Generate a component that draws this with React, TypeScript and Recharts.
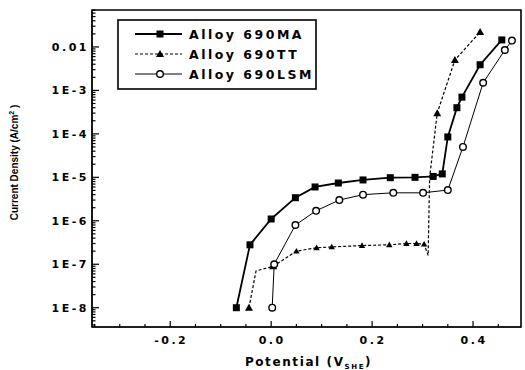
import React from 'react'
import { LineChart, Line, XAxis, YAxis, Label, ReferenceArea } from 'recharts'

// potential (V vs SHE) and current density (A/cm2)
const maPotential = [-0.069, -0.042, 0.0, 0.048, 0.087, 0.133, 0.182, 0.236, 0.285, 0.321, 0.339, 0.35, 0.368, 0.378, 0.414, 0.457]
const maCurrent = [1e-8, 2.8e-7, 1.1e-6, 3.4e-6, 6e-6, 7.4e-6, 8.7e-6, 9.8e-6, 1.0e-5, 1.05e-5, 1.2e-5, 8.5e-5, 4e-4, 7e-4, 3.9e-3, 0.0145]

const ttPotential = [-0.044, -0.03, 0.004, 0.05, 0.09, 0.12, 0.18, 0.234, 0.268, 0.288, 0.303, 0.311, 0.314, 0.329, 0.364, 0.414]
const ttCurrent = [1e-8, 7e-8, 9e-8, 2e-7, 2.4e-7, 2.5e-7, 2.7e-7, 2.8e-7, 3e-7, 3e-7, 2.9e-7, 1.6e-7, 1e-5, 3e-4, 5e-3, 0.022]

const lsmPotential = [0.002, 0.006, 0.048, 0.089, 0.135, 0.182, 0.242, 0.301, 0.35, 0.38, 0.42, 0.463, 0.477]
const lsmCurrent = [1e-8, 1e-7, 8e-7, 1.7e-6, 3e-6, 4e-6, 4.4e-6, 4.4e-6, 5.1e-6, 5e-5, 1.5e-3, 8.5e-3, 0.014]

const seriesNames = ['Alloy 690MA', 'Alloy 690TT', 'Alloy 690LSM']

const xMajor = [-0.2, 0.0, 0.2, 0.4]
const xTicks = [-0.35, -0.3, -0.25, -0.2, -0.15, -0.1, -0.05, 0, 0.05, 0.1, 0.15, 0.2, 0.25, 0.3, 0.35, 0.4, 0.45]
const yMajor = [1e-8, 1e-7, 1e-6, 1e-5, 1e-4, 1e-3, 1e-2]
const yMajorLabels = ['1E-8', '1E-7', '1E-6', '1E-5', '1E-4', '1E-3', '0.01']

const X_DOMAIN: [number, number] = [-0.355, 0.495]
const Y_DOMAIN: [number, number] = [3.6e-9, 0.0708]

// minor ticks 2..9 within each decade, clipped to the domain
const yTicks = [1e-9, ...yMajor].flatMap(d => [1, 2, 3, 4, 5, 6, 7, 8, 9].map(k => k * d))
  .filter(v => v >= Y_DOMAIN[0] && v <= Y_DOMAIN[1])

const toPoints = (xs: number[], ys: number[]) => xs.map((x, i) => ({ x, y: ys[i] }))
const maData = toPoints(maPotential, maCurrent)
const ttData = toPoints(ttPotential, ttCurrent)
const lsmData = toPoints(lsmPotential, lsmCurrent)

const FONT = '"DejaVu Sans", sans-serif'
const GAP = 6

const isXMajor = (v: number) => xMajor.some(m => Math.abs(m - v) < 1e-9)
const yMajorIndex = (v: number) => yMajor.findIndex(m => Math.abs(Math.log10(m) - Math.log10(v)) < 1e-6)

function LeftTick({ x, y, payload }: any) {
  const idx = yMajorIndex(payload.value)
  const ax = x + GAP
  return (
    <g>
      <line x1={ax} x2={ax + (idx >= 0 ? 7 : 3.5)} y1={y} y2={y} stroke="#000" strokeWidth={1.2} />
      {idx >= 0 && (
        <text x={ax - 3} y={y} dy={4} textAnchor="end" fontFamily={FONT} fontWeight={700} fontSize={11} letterSpacing={2.5} fill="#000">
          {yMajorLabels[idx]}
        </text>
      )}
    </g>
  )
}

function RightTick({ x, y, payload }: any) {
  const major = yMajorIndex(payload.value) >= 0
  return <line x1={x} x2={x - (major ? 7 : 3.5)} y1={y} y2={y} stroke="#000" strokeWidth={1.2} />
}

function BottomTick({ x, y, payload }: any) {
  const major = isXMajor(payload.value)
  const ay = y - GAP
  return (
    <g>
      <line x1={x} x2={x} y1={ay} y2={ay - (major ? 6 : 3)} stroke="#000" strokeWidth={1.2} />
      {major && (
        <text x={x + 1} y={ay + 17} textAnchor="middle" fontFamily={FONT} fontWeight={700} fontSize={11} letterSpacing={2.5} fill="#000">
          {payload.value.toFixed(1)}
        </text>
      )}
    </g>
  )
}

function TopTick({ x, y, payload }: any) {
  const major = isXMajor(payload.value)
  return <line x1={x} x2={x} y1={y} y2={y + (major ? 6 : 3)} stroke="#000" strokeWidth={1.2} />
}

const Square = (p: any) => {
  if (p.cx == null) return <g key={p.index} />
  return <rect key={p.index} x={p.cx - 3.5} y={p.cy - 3.5} width={7} height={7} fill="#000" />
}

const TT_NO_MARK = [1, 11, 12]
const Triangle = (p: any) => {
  if (p.cx == null || TT_NO_MARK.includes(p.index)) return <g key={p.index} />
  const { cx, cy } = p
  const s = p.index >= 3 && p.index <= 10 ? 3.2 : 4
  return <polygon key={p.index} points={`${cx},${cy - s} ${cx - s},${cy + s * 0.75} ${cx + s},${cy + s * 0.75}`} fill="#000" />
}

const Circle = (p: any) => {
  if (p.cx == null) return <g key={p.index} />
  return <circle key={p.index} cx={p.cx} cy={p.cy} r={3.3} fill="#fff" stroke="#000" strokeWidth={1.4} />
}

function XTitle({ viewBox }: any) {
  const cx = viewBox.x + viewBox.width / 2 + 2
  return (
    <text x={cx} y={366} textAnchor="middle" fontFamily={FONT} fontWeight={700} fontSize={12} letterSpacing={1.6} fill="#000">
      Potential (V<tspan fontSize={7} dy={3}>SHE</tspan><tspan dy={-3}>)</tspan>
    </text>
  )
}

function YTitle({ viewBox }: any) {
  const cx = 18
  const cy = viewBox.y + viewBox.height / 2 - 6
  return (
    <text x={cx} y={cy} transform={`rotate(-90 ${cx} ${cy})`} textAnchor="middle" fontFamily='"Liberation Sans Narrow", "Liberation Sans", sans-serif' fontWeight={700} fontSize={10} fill="#000">
      Current Density (A/cm<tspan fontSize={7} dy={-4}>2</tspan><tspan dy={4}> )</tspan>
    </text>
  )
}

function LegendBox() {
  const rows = [
    { name: seriesNames[0], dash: undefined, w: 1.8, mark: 'square' },
    { name: seriesNames[1], dash: '3 2', w: 1.2, mark: 'triangle' },
    { name: seriesNames[2], dash: undefined, w: 1, mark: 'circle' },
  ]
  return (
    <svg width={200} height={71} style={{ position: 'absolute', left: 117, top: 19 }}>
      <rect x={1} y={1} width={198} height={69} fill="#fff" stroke="#000" strokeWidth={1.6} />
      {rows.map((r, i) => {
        const cy = 15 + i * 20
        return (
          <g key={r.name}>
            <line x1={18} x2={65} y1={cy} y2={cy} stroke="#000" strokeWidth={r.w} strokeDasharray={r.dash} />
            {r.mark === 'square' && <rect x={39.5} y={cy - 3.5} width={7} height={7} fill="#000" />}
            {r.mark === 'triangle' && <polygon points={`43,${cy - 4} 39,${cy + 3} 47,${cy + 3}`} fill="#000" />}
            {r.mark === 'circle' && <circle cx={43} cy={cy} r={3.3} fill="#fff" stroke="#000" strokeWidth={1.4} />}
            <text x={72} y={cy + 4.5} fontFamily={FONT} fontWeight={700} fontSize={12.5} letterSpacing={2.5} fill="#000">
              {r.name}
            </text>
          </g>
        )
      })}
    </svg>
  )
}

export default function App() {
  return (
    <div style={{ position: 'absolute', left: 0, top: 0, width: 525, height: 370, background: '#fff' }}>
      <LineChart width={525} height={370} margin={{ top: 10, right: 4, bottom: 0, left: 0 }}>
        <XAxis
          xAxisId="b" dataKey="x" type="number" domain={X_DOMAIN} allowDataOverflow
          ticks={xTicks} interval={0} height={43} tickSize={0} tickMargin={GAP}
          tick={<BottomTick />} tickLine={false} stroke="#000"
        >
          <Label content={<XTitle />} />
        </XAxis>
        <XAxis
          xAxisId="t" orientation="top" dataKey="x" type="number" domain={X_DOMAIN} allowDataOverflow
          ticks={xTicks} interval={0} height={0} tickSize={0} tickMargin={0}
          tick={<TopTick />} tickLine={false} stroke="#000"
        />
        <YAxis
          yAxisId="l" scale="log" type="number" domain={Y_DOMAIN} allowDataOverflow
          ticks={yTicks} interval={0} width={92} tickSize={0} tickMargin={GAP}
          tick={<LeftTick />} tickLine={false} stroke="#000"
        >
          <Label content={<YTitle />} />
        </YAxis>
        <YAxis
          yAxisId="r" orientation="right" scale="log" type="number" domain={Y_DOMAIN} allowDataOverflow
          ticks={yTicks} interval={0} width={0} tickSize={0} tickMargin={0}
          tick={<RightTick />} tickLine={false} stroke="#000"
        />
        <ReferenceArea
          xAxisId="b" yAxisId="l" x1={X_DOMAIN[0]} x2={X_DOMAIN[1]} y1={Y_DOMAIN[0]} y2={Y_DOMAIN[1]}
          fill="none" fillOpacity={0} stroke="#000" strokeWidth={1.6} ifOverflow="visible"
        />
        <Line data={maData} dataKey="y" xAxisId="b" yAxisId="l" type="linear" stroke="#000" strokeWidth={1.8} dot={Square} isAnimationActive={false} />
        <Line data={ttData} dataKey="y" xAxisId="b" yAxisId="l" type="linear" stroke="#000" strokeWidth={1.2} strokeDasharray="3 2" dot={Triangle} isAnimationActive={false} />
        <Line data={lsmData} dataKey="y" xAxisId="b" yAxisId="l" type="linear" stroke="#000" strokeWidth={1} dot={Circle} isAnimationActive={false} />
        <Line data={lsmData} dataKey="y" xAxisId="t" yAxisId="r" stroke="none" dot={false} activeDot={false} legendType="none" isAnimationActive={false} />
      </LineChart>
      <LegendBox />
    </div>
  )
}
